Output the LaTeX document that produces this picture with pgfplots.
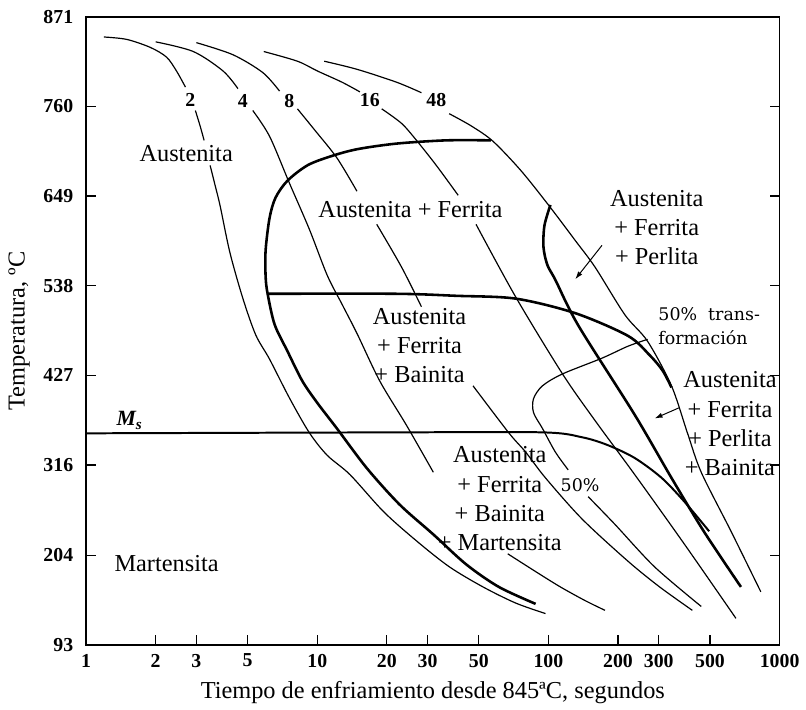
\documentclass[border=0pt]{standalone}
\usepackage{fontspec}
\setmainfont{Liberation Serif}
\newfontfamily\dvs{DejaVu Serif}
\usepackage{pgfplots}
\pgfplotsset{compat=1.18}
\usetikzlibrary{arrows.meta}
\newcommand\lab{\fontsize{12.3}{14.8}\selectfont}
\newcommand\tk{\fontsize{10}{12}\selectfont\bfseries}
\newcommand\pc{\dvs\fontsize{8.8}{12}\selectfont}
\pgfplotsset{
  thinc/.style={black, line width=0.6pt, smooth, mark=none},
  thickc/.style={black, line width=1.3pt, smooth, mark=none},
}
\begin{document}
\begin{tikzpicture}
\begin{axis}[
  scale only axis, width=350.5pt, height=317.5pt,
  xmode=log, xmin=1, xmax=1000, ymin=93, ymax=871,
  xtick={1,2,3,5,10,20,30,50,100,200,300,500,1000},
  xticklabels={1,2,3,5,10,20,30,50,100,200,300,500,1000},
  ytick={93,204,316,427,538,649,760,871},
  xminorticks=false, yminorticks=false,
  xtick pos=left, ytick pos=both, yticklabel pos=left,
  tick align=inside, major tick length=5pt,
  axis line style={line width=0.8pt},
  every tick/.style={black, line width=0.6pt},
  /pgf/number format/assume math mode=true,
  tick label style={font=\tk},
  yticklabel style={xshift=-3pt},
  xticklabel style={yshift=-1pt},
  label style={font=\lab},
  xlabel={Tiempo de enfriamiento desde 845ªC, segundos},
  ylabel={Temperatura, ºC},
]
% cooling curve 2
\addplot[thinc] coordinates {(1.195,846) (1.50,843) (1.90,833) (2.23,821) (2.46,804) (2.69,784)};
\addplot[thinc] coordinates {(2.97,755) (3.12,735) (3.24,718)};
\addplot[thinc] coordinates {(3.44,687) (3.61,663) (3.80,637) (4.19,579) (4.77,522) (5.42,477) (6.22,447) (7.58,399) (9.24,356) (11.04,328) (13.86,304) (19.39,258) (26.87,222) (37.23,190) (52.1,165) (72.2,145) (97.1,132)};
% cooling curve 4
\addplot[thinc] coordinates {(2.00,840) (2.91,828) (3.91,804) (4.54,782)};
\addplot[thinc] coordinates {(5.26,755) (6.22,723) (7.58,665) (9.24,608) (11.04,551) (12.80,515) (14.85,479) (18.64,420) (24.34,365) (31.78,307)};
\addplot[thinc] coordinates {(66.7,206) (88.0,184) (112.6,165) (144.2,148) (175.7,136)};
% cooling curve 8
\addplot[thinc] coordinates {(3.00,839) (4.32,824) (5.81,802) (6.87,779)};
\addplot[thinc] coordinates {(8.21,757) (9.80,730) (12.18,696) (14.85,655)};
\addplot[thinc] coordinates {(18.09,614) (23.16,561) (28.22,512)};
\addplot[thinc] coordinates {(47.19,414) (67.3,356) (79.7,332) (97.1,300) (139.9,249) (220.5,197) (302.6,165) (419.2,136)};
% cooling curve 16
\addplot[thinc] coordinates {(5.87,828) (8.21,816) (10,804) (12.80,790) (15.30,778)};
\addplot[thinc] coordinates {(19.01,757) (23.16,739) (26.87,718) (32.73,687) (40.69,650)};
\addplot[thinc] coordinates {(48.62,614) (72.2,524) (114.9,429) (159.1,371) (236.3,304) (387.3,218) (647.5,126)};
% cooling curve 48
\addplot[thinc] coordinates {(10.72,816) (14.85,806) (22.04,790) (28.22,777)};
\addplot[thinc] coordinates {(37.23,751) (46.27,736) (57.5,717) (75.8,681) (100,638) (130.6,594) (159.1,561) (214.1,502) (268.7,469) (340.6,414) (399,356) (458,307) (616,234) (829,159)};
% 50% transformation curve
\addplot[thinc] coordinates {(268.7,471.6) (220.5,463) (170.5,448.3) (114.9,428.7) (94.2,414) (86.2,398.1) (86.2,380.9) (94.2,361.3) (107.2,331.9) (121.8,309.9)};
\addplot[thinc] coordinates {(148.5,276.8) (193.9,242.5) (287.9,189.8) (458.1,140.8)};
% ferrite start C curve
\addplot[thickc] coordinates {(56.4,718) (36.14,718) (22.04,714) (14.85,707) (11.37,698) (9.06,687) (7.43,668) (6.60,647) (6.22,622) (5.98,582) (5.98,549) (6.10,528) (6.54,490) (7.43,457) (8.62,420) (10,393) (12.18,361) (16.39,312) (22.71,267) (31.78,230) (44.04,193) (61.0,165) (88.0,144)};
% bainite start
\addplot[thickc] coordinates {(6.10,528) (22.04,528) (39.9,525.5) (72.2,522) (130.6,504) (220.5,476) (274,452) (311.6,433) (340.6,412)};
% pearlite start
\addplot[thickc] coordinates {(102,638) (96.1,612.5) (95.2,585.5) (99.0,563.5) (107.2,545.1) (134.5,489) (236.3,378) (340.6,300) (471.9,233) (680.3,165)};
% Ms
\addplot[black, line width=1.0pt, smooth, mark=none] coordinates {(1,355.2) (22.04,356.4) (94.2,356.4) (139.9,350.3) (180.9,340.5) (236.3,324.6) (308.6,300.1) (387.3,270.6) (495.7,233.9)};
% arrows
\addplot[black, line width=0.5pt, -{Latex[length=4pt,width=2.6pt]}] coordinates {(170.5,588) (130.6,546)};
\addplot[black, line width=0.5pt, -{Latex[length=4pt,width=2.6pt]}] coordinates {(368.7,387) (287.9,373.6)};
% curve labels
\node[font=\tk] at (axis cs:2.822,768) {2};
\node[font=\tk] at (axis cs:4.765,767) {4};
\node[font=\tk] at (axis cs:7.58,767) {8};
\node[font=\tk] at (axis cs:16.89,768) {16};
\node[font=\tk] at (axis cs:32.73,768) {48};
% region labels
\node[font=\lab] at (axis cs:2.71,702) {Austenita};
\node[font=\lab] at (axis cs:25.3,632) {Austenita + Ferrita};
\node[font=\lab, align=center] at (axis cs:27.7,464) {Austenita\\+ Ferrita\\+ Bainita};
\node[font=\lab, align=center] at (axis cs:294,610) {Austenita\\+ Ferrita\\+ Perlita};
\node[font=\lab, align=center] at (axis cs:610,367) {Austenita\\+ Ferrita\\+ Perlita\\+ Bainita};
\node[font=\lab, align=center] at (axis cs:61.6,274) {Austenita\\+ Ferrita\\+ Bainita\\+ Martensita};
\node[font=\lab] at (axis cs:2.23,193.5) {Martensita};
\node[font=\fontsize{11}{13}\selectfont\bfseries\itshape] at (axis cs:1.545,371) {M\textsubscript{s}};
\node[font=\pc] at (axis cs:137,291.5) {50\%};
\node[font=\pc, align=left, anchor=west] at (axis cs:279,487.5) {50\%\ \ trans-\\formación};
\end{axis}
\path ([xshift=-43.5pt,yshift=-29pt]current axis.south west) rectangle ([xshift=9pt,yshift=8.5pt]current axis.north east);
\end{tikzpicture}
\end{document}
